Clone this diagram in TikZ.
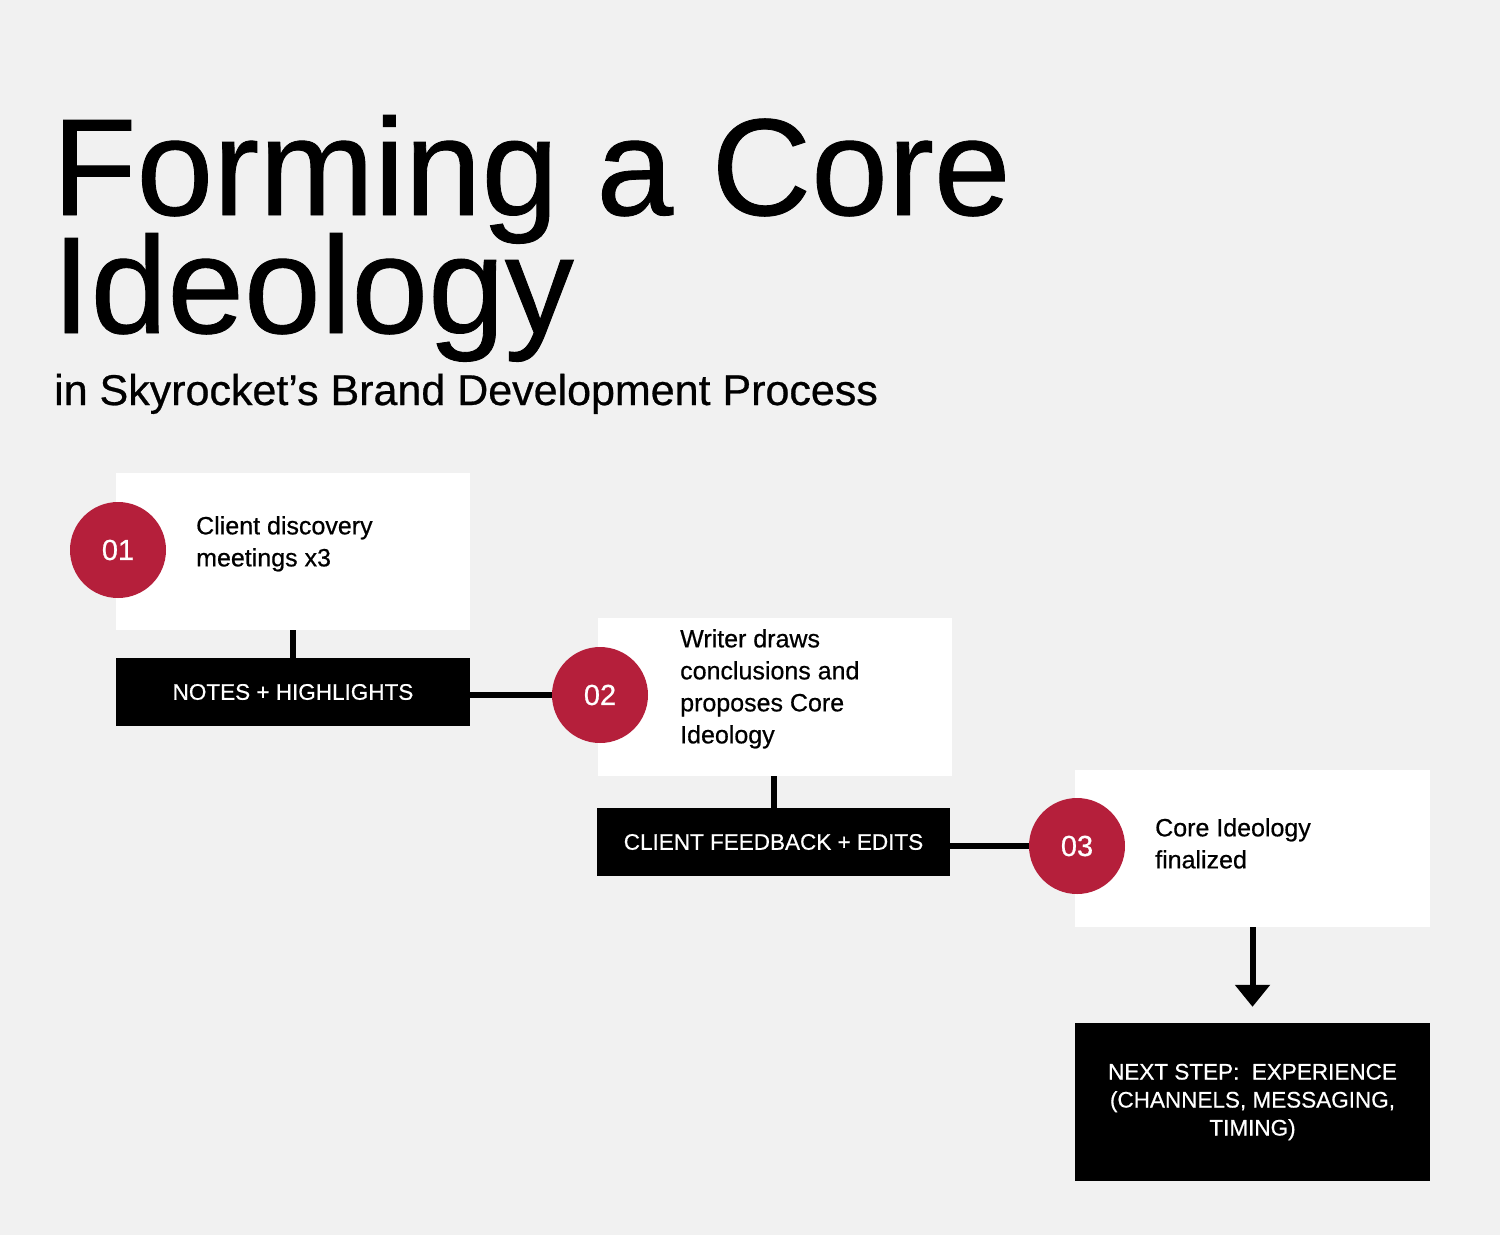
\documentclass[tikz,border=0pt]{standalone}
\usepackage{fontspec}
\setmainfont{Liberation Sans}[FakeBold=0.6]
\usetikzlibrary{arrows.meta}
\definecolor{bg}{HTML}{F1F1F1}
\definecolor{crimson}{HTML}{B51F3B}
\begin{document}
\begin{tikzpicture}[x=1pt,y=-1pt,
  wbox/.style={fill=white,draw=none},
  bbox/.style={fill=black,draw=none},
  num/.style={circle,fill=crimson,minimum size=96pt,inner sep=0pt,text=white,font=\fontsize{29}{29}\selectfont},
  lbl/.style={anchor=north west,align=left,font=\fontsize{25}{32}\selectfont,inner sep=0pt},
  blbl/.style={text=white,align=center,font=\fontsize{22.5}{28}\selectfont,inner sep=0pt},
  conn/.style={line width=6pt}]
\fill[bg] (0,0) rectangle (1500,1235);
\useasboundingbox (0,0) rectangle (1500,1235);
% title
\node[anchor=base west,inner sep=0pt,font=\fontsize{138}{138}\selectfont] (t1) at (52,215) {Forming a Core};
\node[anchor=base west,inner sep=0pt,font=\fontsize{138}{138}\selectfont] (t2) at (52,333) {Ideology};
\node[anchor=base west,inner sep=0pt,font=\fontsize{43}{43}\selectfont] (t3) at (54,405) {in Skyrocket's Brand Development Process};
% boxes
\node[wbox,minimum width=354pt,minimum height=157pt] (w1) at (293,551.5) {};
\node[bbox,minimum width=354pt,minimum height=68pt] (b1) at (293,692) {};
\node[wbox,minimum width=354pt,minimum height=158pt] (w2) at (775,697) {};
\node[bbox,minimum width=353pt,minimum height=68pt] (b2) at (773.5,842) {};
\node[wbox,minimum width=355pt,minimum height=157pt] (w3) at (1252.5,848.5) {};
\node[bbox,minimum width=355pt,minimum height=158pt] (b3) at (1252.5,1102) {};
% connectors
\draw[conn] (w1.south -| b1.north) -- (b1.north);
\draw[conn] (w2.south -| b2.north) -- (b2.north);
\node[num] (n1) at (118,550) {01};
\node[num] (n2) at (600,695) {02};
\node[num] (n3) at (1077,846) {03};
\draw[conn] (b1.east |- n2.west) -- (n2.west);
\draw[conn] (b2.east |- n3.west) -- (n3.west);
\draw[line width=6pt,-{Triangle[length=22pt,width=34pt]}] (w3.south) -- ([yshift=16pt]b3.north);
% labels
\node[lbl] (l1) at (196,516) {Client discovery\\meetings x3};
\node[lbl] (l2) at (680,629) {Writer draws\\conclusions and\\proposes Core\\Ideology};
\node[lbl] (l3) at (1155,818) {Core Ideology\\finalized};
\node[blbl] (k1) at (b1) {NOTES + HIGHLIGHTS};
\node[blbl] (k2) at (b2) {CLIENT FEEDBACK + EDITS};
\node[blbl] (k3) at (b3) {NEXT STEP:\ \ EXPERIENCE\\(CHANNELS, MESSAGING,\\TIMING)};
\end{tikzpicture}
\end{document}
